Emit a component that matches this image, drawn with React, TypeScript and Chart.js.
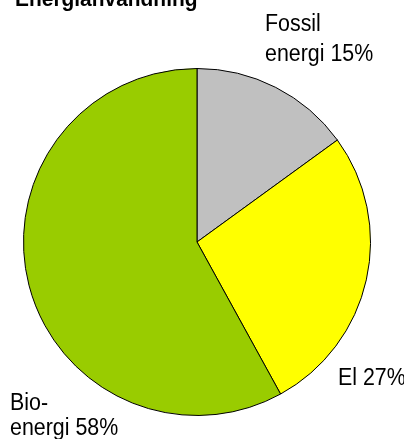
import React, { useEffect, useRef } from "react";
import { Chart, registerables } from "chart.js";

Chart.register(...registerables);

const categories = ["Fossil energi", "El", "Bioenergi"];
const shares = [15, 27, 58];
const sliceColors = ["#C0C0C0", "#FFFF00", "#99CC00"];
const titleText = "Energianvändning";
// label text lines per slice
const labelLines = [["Fossil", "energi 15%"], ["El 27%"], ["Bio-", "energi 58%"]];
// label layout: x, first baseline, line gap
const labelLayout = [
  { x: 265, y: 31, gap: 30 },
  { x: 338, y: 385, gap: 0 },
  { x: 10, y: 410, gap: 25 },
];

const FONT = '"Liberation Sans", Arial, sans-serif';
const SQUEEZE = 0.93;

const textPlugin = {
  id: "textPlugin",
  afterDraw(chart: any) {
    const ctx = chart.ctx as CanvasRenderingContext2D;
    ctx.save();
    ctx.fillStyle = "#000";
    ctx.textBaseline = "alphabetic";
    ctx.textAlign = "left";
    // title
    ctx.font = `bold 22.5px ${FONT}`;
    ctx.save();
    ctx.translate(15, 6);
    ctx.scale(SQUEEZE, 1);
    ctx.fillText(titleText, 0, 0);
    ctx.restore();
    // labels
    ctx.font = `23px ${FONT}`;
    labelLines.forEach((lines, i) => {
      const l = labelLayout[i];
      lines.forEach((line, j) => {
        ctx.save();
        ctx.translate(l.x, l.y + j * l.gap);
        ctx.scale(SQUEEZE, 1);
        ctx.fillText(line, 0, 0);
        ctx.restore();
      });
    });
    ctx.restore();
  },
};

export default function App() {
  const ref = useRef<HTMLCanvasElement | null>(null);
  useEffect(() => {
    document.body.style.margin = "0";
    const canvas = ref.current!;
    const chart = new Chart(canvas, {
      type: "pie",
      data: {
        labels: categories,
        datasets: [
          {
            data: shares,
            backgroundColor: sliceColors,
            borderColor: "#000000",
            borderWidth: 1,
          },
        ],
      },
      options: {
        responsive: false,
        animation: false,
        rotation: 0,
        layout: { padding: { left: 23, top: 68, right: 33, bottom: 23 } },
        plugins: {
          legend: { display: false },
          tooltip: { enabled: false },
          title: { display: false },
        },
      },
      plugins: [textPlugin],
    });
    return () => chart.destroy();
  }, []);
  return (
    <div style={{ width: 404, height: 439, background: "#fff" }}>
      <canvas ref={ref} width={404} height={439} style={{ display: "block" }} />
    </div>
  );
}
